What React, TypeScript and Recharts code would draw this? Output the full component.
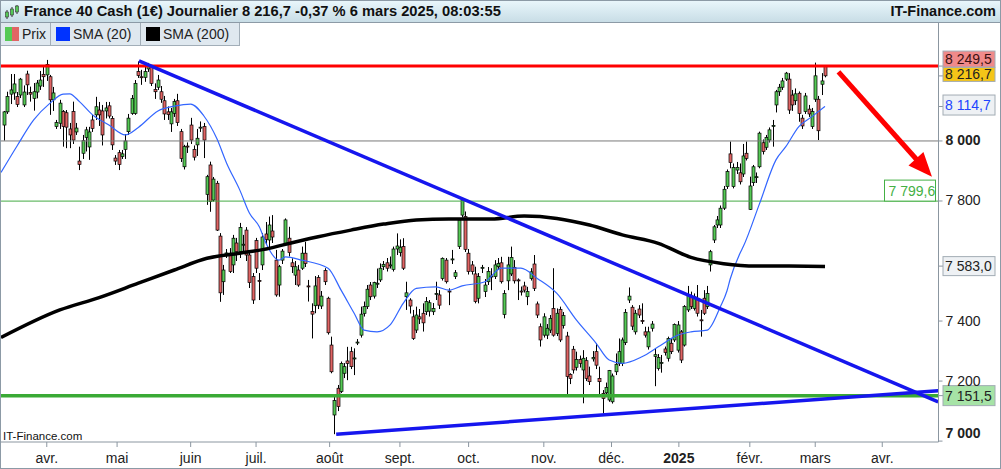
import React from 'react';
import { ComposedChart, Bar, Line, XAxis, YAxis, ReferenceLine } from 'recharts';

// daily candles [open, high, low, close], index 0 = mid-March 2024
const candles: number[][] = [
	[8053, 8100, 8001, 8097], [8097, 8164, 8090, 8148], [8156, 8223, 8123, 8170], [8160, 8223, 8137, 8190],
	[8148, 8163, 8113, 8122], [8153, 8210, 8143, 8206], [8120, 8185, 8113, 8163], [8223, 8234, 8153, 8187],
	[8161, 8181, 8131, 8156], [8142, 8193, 8101, 8164], [8163, 8203, 8142, 8193], [8183, 8233, 8170, 8203],
	[8222, 8253, 8180, 8214], [8220, 8270, 8200, 8255], [8214, 8220, 8087, 8137], [8137, 8180, 8100, 8160],
	[8048, 8070, 8040, 8061], [8059, 8137, 8040, 8126], [8098, 8103, 7981, 8048], [8094, 8103, 7976, 8046],
	[8040, 8060, 7976, 8020], [8098, 8131, 7990, 8003], [8030, 8060, 8020, 8043], [7933, 7981, 7903, 7922],
	[7959, 8020, 7940, 8001], [8012, 8047, 7965, 8037], [7980, 8047, 7937, 8030], [8070, 8087, 8030, 8042],
	[8087, 8147, 8070, 8114], [8103, 8130, 8050, 8087], [8100, 8120, 7985, 8020], [8100, 8130, 8075, 8110],
	[8117, 8130, 8075, 8083], [8075, 8083, 7970, 7987], [7943, 7953, 7920, 7933], [7961, 7970, 7903, 7922],
	[7948, 7970, 7940, 7957], [7972, 8023, 7940, 8000], [8031, 8090, 8020, 8076], [8092, 8153, 8087, 8142],
	[8092, 8203, 8087, 8192], [8231, 8265, 8210, 8218], [8214, 8237, 8187, 8212], [8212, 8247, 8197, 8231],
	[8240, 8260, 8230, 8250], [8248, 8253, 8183, 8192], [8172, 8192, 8140, 8164], [8179, 8220, 8170, 8203],
	[8164, 8183, 8127, 8139], [8134, 8150, 8070, 8090], [8097, 8115, 8070, 8088], [8057, 8110, 8030, 8097],
	[8092, 8140, 8080, 8131], [8134, 8157, 8050, 8061], [8031, 8040, 7930, 7942], [7914, 7987, 7905, 7981],
	[7983, 7995, 7960, 7980], [8053, 8077, 7990, 8003], [7972, 7985, 7935, 7946], [7987, 8040, 7950, 8009],
	[8043, 8065, 8030, 8046], [8048, 8060, 7943, 8003], [7822, 7887, 7787, 7881], [7920, 7931, 7764, 7798],
	[7803, 7880, 7798, 7873], [7859, 7867, 7700, 7703], [7683, 7693, 7464, 7494], [7531, 7587, 7487, 7570],
	[7623, 7640, 7610, 7627], [7626, 7643, 7560, 7565], [7587, 7687, 7560, 7676], [7660, 7677, 7600, 7631],
	[7631, 7727, 7610, 7712], [7653, 7687, 7627, 7656], [7703, 7713, 7600, 7620], [7620, 7630, 7510, 7528],
	[7548, 7560, 7457, 7470], [7668, 7677, 7560, 7576], [7535, 7560, 7470, 7532], [7587, 7693, 7570, 7680],
	[7690, 7730, 7655, 7672], [7670, 7748, 7637, 7720], [7700, 7753, 7660, 7680], [7603, 7637, 7481, 7487],
	[7520, 7587, 7481, 7581], [7603, 7640, 7590, 7633], [7659, 7742, 7650, 7737], [7676, 7714, 7615, 7628],
	[7594, 7609, 7560, 7581], [7553, 7600, 7520, 7581], [7570, 7587, 7514, 7520], [7576, 7648, 7570, 7626],
	[7626, 7664, 7580, 7592], [7517, 7537, 7465, 7515], [7432, 7459, 7342, 7423], [7451, 7550, 7426, 7517],
	[7545, 7553, 7440, 7453], [7450, 7500, 7440, 7483], [7568, 7576, 7520, 7531], [7476, 7481, 7355, 7361],
	[7320, 7348, 7226, 7231], [7087, 7153, 7023, 7135], [7176, 7187, 7100, 7115], [7165, 7265, 7160, 7259],
	[7226, 7260, 7210, 7248], [7267, 7314, 7203, 7259], [7298, 7314, 7240, 7248], [7275, 7309, 7220, 7277],
	[7327, 7340, 7320, 7330], [7353, 7448, 7345, 7423], [7425, 7465, 7415, 7448], [7448, 7520, 7440, 7506],
	[7520, 7530, 7470, 7481], [7483, 7531, 7475, 7528], [7524, 7575, 7510, 7526], [7537, 7592, 7530, 7576],
	[7581, 7600, 7570, 7589], [7594, 7610, 7565, 7576], [7585, 7615, 7575, 7587], [7572, 7648, 7565, 7640],
	[7640, 7692, 7620, 7650], [7628, 7672, 7615, 7646], [7648, 7676, 7570, 7576], [7481, 7531, 7437, 7494],
	[7470, 7476, 7425, 7450], [7414, 7437, 7337, 7342], [7370, 7448, 7360, 7420], [7414, 7440, 7390, 7407],
	[7426, 7459, 7365, 7394], [7431, 7480, 7420, 7465], [7433, 7470, 7415, 7461], [7431, 7460, 7420, 7442],
	[7490, 7531, 7470, 7492], [7487, 7503, 7440, 7453], [7542, 7612, 7535, 7609], [7603, 7610, 7525, 7531],
	[7500, 7509, 7453, 7498], [7605, 7637, 7590, 7607], [7548, 7570, 7540, 7561], [7648, 7742, 7640, 7737],
	[7753, 7810, 7745, 7803], [7748, 7765, 7630, 7639], [7626, 7640, 7555, 7565], [7587, 7600, 7555, 7565],
	[7557, 7581, 7459, 7465], [7476, 7560, 7459, 7548], [7577, 7587, 7560, 7579], [7498, 7540, 7480, 7520],
	[7531, 7580, 7520, 7565], [7548, 7576, 7503, 7550], [7548, 7603, 7540, 7587], [7581, 7610, 7570, 7592],
	[7594, 7614, 7525, 7531], [7422, 7503, 7409, 7492], [7534, 7614, 7503, 7587], [7557, 7648, 7550, 7612],
	[7579, 7603, 7525, 7534], [7537, 7542, 7470, 7535], [7500, 7515, 7485, 7498], [7517, 7531, 7495, 7503],
	[7481, 7514, 7453, 7498], [7542, 7576, 7535, 7564], [7590, 7620, 7500, 7509], [7457, 7465, 7410, 7420],
	[7381, 7392, 7315, 7337], [7353, 7426, 7345, 7414], [7353, 7390, 7340, 7376], [7370, 7420, 7360, 7409],
	[7442, 7576, 7348, 7353], [7359, 7442, 7350, 7426], [7439, 7448, 7330, 7337], [7385, 7430, 7375, 7418],
	[7350, 7364, 7153, 7215], [7222, 7226, 7190, 7209], [7306, 7317, 7225, 7237], [7246, 7298, 7235, 7272],
	[7272, 7285, 7245, 7259], [7237, 7303, 7126, 7276], [7268, 7280, 7200, 7209], [7217, 7248, 7187, 7198],
	[7274, 7300, 7265, 7279], [7298, 7326, 7240, 7253], [7209, 7248, 7150, 7198], [7159, 7170, 7092, 7142],
	[7161, 7195, 7150, 7179], [7137, 7237, 7131, 7235], [7131, 7225, 7125, 7217], [7231, 7292, 7220, 7256],
	[7259, 7342, 7250, 7298], [7259, 7345, 7250, 7337], [7328, 7440, 7320, 7429], [7470, 7512, 7460, 7483],
	[7446, 7453, 7370, 7383], [7364, 7437, 7355, 7426], [7440, 7453, 7410, 7420], [7402, 7459, 7390, 7400],
	[7364, 7381, 7345, 7353], [7314, 7381, 7305, 7364], [7376, 7400, 7365, 7390], [7282, 7309, 7183, 7288],
	[7242, 7290, 7235, 7279], [7261, 7287, 7228, 7262], [7307, 7315, 7285, 7295], [7276, 7348, 7265, 7342],
	[7326, 7340, 7290, 7298], [7337, 7392, 7330, 7389], [7303, 7400, 7295, 7387], [7364, 7370, 7260, 7270],
	[7320, 7453, 7315, 7448], [7437, 7517, 7430, 7487], [7481, 7498, 7440, 7448], [7442, 7492, 7435, 7481],
	[7476, 7520, 7415, 7426], [7404, 7437, 7348, 7403], [7476, 7503, 7420, 7426], [7448, 7517, 7440, 7492],
	[7587, 7637, 7565, 7631], [7670, 7720, 7660, 7714], [7720, 7750, 7710, 7737], [7720, 7785, 7710, 7776],
	[7776, 7850, 7770, 7839], [7848, 7905, 7840, 7898], [7957, 7998, 7909, 7928], [7848, 7925, 7842, 7912],
	[7903, 7930, 7890, 7912], [7894, 7925, 7855, 7864], [7890, 7990, 7880, 7950], [7959, 7998, 7935, 7942],
	[7772, 7881, 7770, 7850], [7861, 7920, 7850, 7914], [7880, 7895, 7860, 7881], [7914, 8031, 7909, 8026],
	[7994, 8005, 7955, 7965], [7979, 8020, 7970, 8012], [8003, 8045, 7995, 8037], [8050, 8070, 7981, 8052],
	[8120, 8170, 8095, 8164], [8164, 8190, 8150, 8179], [8179, 8210, 8170, 8200], [8206, 8230, 8200, 8226],
	[8206, 8226, 8090, 8103], [8153, 8170, 8100, 8120], [8134, 8175, 8120, 8157], [8159, 8165, 8064, 8092],
	[8076, 8087, 8040, 8050], [8098, 8160, 8090, 8150], [8106, 8120, 8080, 8090], [8048, 8110, 8040, 8098],
	[8139, 8261, 8130, 8217], [8139, 8150, 8003, 8034], [8189, 8226, 8153, 8200], [8248, 8253, 8212, 8217],
];

// moving averages: [candle index, value]
const sma20: number[][] = [
	[-1, 7895], [4, 7985], [9, 8070], [14, 8126], [18, 8156], [20, 8157], [23, 8131], [27, 8087],
	[32, 8053], [37, 8020], [41, 8045], [47, 8100], [52, 8116], [57, 8123], [61, 8084], [65, 8008],
	[68, 7926], [72, 7837], [75, 7759], [78, 7714], [80, 7660], [84, 7603], [86, 7614], [91, 7603],
	[99, 7576], [103, 7503], [107, 7426], [110, 7370], [114, 7364], [118, 7387], [122, 7459], [126, 7509],
	[132, 7514], [136, 7503], [140, 7517], [147, 7531], [152, 7576], [158, 7576], [163, 7542], [169, 7492],
	[175, 7403], [181, 7326], [185, 7270], [189, 7259], [195, 7281], [200, 7314], [206, 7353], [210, 7364],
	[215, 7370], [219, 7448], [221, 7500], [222, 7540], [225, 7626], [226, 7648], [231, 7792], [236, 7937],
	[239, 7981], [243, 8048], [247, 8081], [251, 8115],
];

const sma200: number[][] = [
	[-1, 7345], [17, 7437], [29, 7478], [41, 7526], [52, 7570], [62, 7609], [72, 7626], [81, 7642],
	[85, 7653], [96, 7681], [106, 7703], [116, 7723], [126, 7737], [136, 7740], [149, 7740], [159, 7750],
	[169, 7742], [179, 7720], [189, 7687], [200, 7659], [210, 7612], [220, 7591], [230, 7583], [240, 7583],
	[251, 7582],
];

const monthTicks = [13, 34.5, 57, 77, 99.5, 121, 142, 165, 185.7, 206.3, 228, 248, 268.5];
const monthLabels = ['avr.', 'mai', 'juin', 'juil.', 'août', 'sept.', 'oct.', 'nov.', 'déc.', '2025', 'févr.', 'mars', 'avr.'];
const priceTicks = [7000, 7200, 7400, 7800, 8000];

const resistance = 8249.5;
const lastPrice = 8216.7;
const sma20Last = 8114.7;
const target = 7799.6;
const sma200Last = 7583.0;
const support = 7151.5;
const greyLevel = 8000;

// hand drawn lines [index, price]
const upperTrend = [[41.2, 8267], [285.6, 7131]];
const lowerTrend = [[101.5, 7023], [285.6, 7168]];
const arrow = [[255.1, 8230], [283.7, 7881]];

const FONT = '"Liberation Sans", Arial, sans-serif';
const AXIS = '#8b96a0';

const fmt = (v: number, dec = 0) => {
	const [int, frac] = v.toFixed(dec).split('.');
	const withSpaces = int.replace(/\B(?=(\d{3})+(?!\d))/g, ' ');
	return frac ? withSpaces + ',' + frac : withSpaces;
};

const s20 = new Map(sma20.map(([i, v]) => [i, v]));
const s200 = new Map(sma200.map(([i, v]) => [i, v]));
const rows: any[] = [];
for (let i = -1; i < candles.length; i++) {
	const c = candles[i];
	rows.push({
		i,
		range: c ? [c[2], c[1]] : undefined,
		o: c ? c[0] : undefined,
		h: c ? c[1] : undefined,
		l: c ? c[2] : undefined,
		c: c ? c[3] : undefined,
		sma20: s20.get(i),
		sma200: s200.get(i),
	});
}

const Candle = (props: any) => {
	const { x, y, width, height, payload } = props;
	if (!payload || payload.o == null) return null;
	const top = Math.min(y, y + height);
	const bot = Math.max(y, y + height);
	const { o, h, l, c } = payload;
	const span = h - l || 1;
	const py = (v: number) => top + ((h - v) / span) * (bot - top);
	const cx = Math.round(x + width / 2) + 0.5;
	const bt = py(Math.max(o, c));
	const bb = py(Math.min(o, c));
	return (
		<g>
			<line x1={cx} x2={cx} y1={top} y2={bot} stroke='#000' strokeWidth={1} />
			<rect
				x={cx - 1.5}
				y={bt}
				width={3}
				height={Math.max(bb - bt, 1)}
				fill={c >= o ? '#55c955' : '#e06464'}
				stroke='#000'
				strokeWidth={0.7}
			/>
		</g>
	);
};

const MonthTick = (props: any) => {
	const { x, y, payload } = props;
	const label = monthLabels[monthTicks.indexOf(payload.value)];
	return (
		<text x={x} y={y} dy='0.71em' textAnchor='middle' fontSize={14} fontFamily={FONT}
			fill='#222' fontWeight={label === '2025' ? 'bold' : 'normal'}>
			{label}
		</text>
	);
};

const PriceTick = (props: any) => {
	const { x, y, payload } = props;
	const v = payload.value;
	const bold = v === 7000 || v === 8000;
	return (
		<text x={x} y={v === 7000 ? y - 8 : y} dy={4.5} fontSize={14} fontFamily={FONT}
			fill='#222' fontWeight={bold ? 'bold' : 'normal'}>
			{fmt(v)}
		</text>
	);
};

// price box drawn on the right axis
const axisBox = (text: string, bg: string, color: string, h: number, shift = 0) => (p: any) => {
	const vb = p.viewBox;
	const x = vb.x + vb.width;
	const cy = vb.y + shift;
	return (
		<g>
			<line x1={x} x2={x + 5} y1={vb.y} y2={vb.y} stroke={AXIS} />
			<rect x={x + 4.5} y={cy - h / 2} width={52} height={h} fill={bg} stroke='#a2acb4' />
			<text x={x + 6.5} y={cy} dy={5} fontSize={14} fontFamily={FONT} fill={color}>{text}</text>
		</g>
	);
};

const targetBox = (p: any) => {
	const vb = p.viewBox;
	const right = vb.x + vb.width - 3;
	return (
		<g>
			<rect x={right - 51} y={vb.y - 21} width={51} height={21} fill='#fff' stroke='#44b044' />
			<text x={right - 47} y={vb.y - 10.5} dy={5} fontSize={14} fontFamily={FONT} fill='#44b044'>
				{fmt(target, 1)}
			</text>
		</g>
	);
};

const ArrowShape = (props: any) => {
	const { x1, y1, x2, y2 } = props;
	const ang = Math.atan2(y2 - y1, x2 - x1);
	const len = 24;
	const half = 10;
	const bx = x2 - len * Math.cos(ang);
	const by = y2 - len * Math.sin(ang);
	const px = -Math.sin(ang) * half;
	const py = Math.cos(ang) * half;
	return (
		<g>
			<line x1={x1} y1={y1} x2={bx + 2 * Math.cos(ang)} y2={by + 2 * Math.sin(ang)} stroke='#ff0000' strokeWidth={5} />
			<polygon points={`${x2},${y2} ${bx + px},${by + py} ${bx - px},${by - py}`} fill='#ff0000' />
		</g>
	);
};

const HeaderIcon = () => (
	<svg width={16} height={16} style={{ position: 'absolute', left: 4, top: 4 }}>
		<line x1={3} x2={3} y1={6} y2={15} stroke='#333' />
		<rect x={1.5} y={8} width={3} height={5} fill='#55c955' stroke='#333' strokeWidth={0.6} />
		<line x1={8} x2={8} y1={3} y2={13} stroke='#333' />
		<rect x={6.5} y={5} width={3} height={6} fill='#55c955' stroke='#333' strokeWidth={0.6} />
		<line x1={13} x2={13} y1={1} y2={10} stroke='#333' />
		<rect x={11.5} y={2} width={3} height={6} fill='#55c955' stroke='#333' strokeWidth={0.6} />
	</svg>
);

const legendCell: React.CSSProperties = {
	position: 'absolute',
	top: 23,
	height: 23,
	boxSizing: 'border-box',
	background: '#dfe8ef',
	borderRight: '1px solid #a2aeb8',
	borderBottom: '1px solid #a2aeb8',
	fontSize: 14,
	lineHeight: '22px',
	color: '#222',
};

export default function App() {
	return (
		<div style={{ position: 'relative', width: 1001, height: 469, overflow: 'hidden', background: '#fff', fontFamily: FONT }}>
			<style>{'body{margin:0}'}</style>
			<div style={{ position: 'absolute', left: 0, top: 0 }}>
				<ComposedChart width={1001} height={469} data={rows} margin={{ top: 23, right: 1.5, bottom: 0, left: 1 }}>
					<XAxis
						dataKey='i'
						type='number'
						domain={[-1, 285.7]}
						allowDataOverflow
						ticks={monthTicks}
						interval={0}
						height={27}
						tickSize={5}
						tickMargin={6}
						tick={<MonthTick />}
						stroke={AXIS}
					/>
					<YAxis
						orientation='right'
						type='number'
						domain={[6997, 8393]}
						allowDataOverflow
						ticks={priceTicks}
						interval={0}
						width={61}
						tickSize={4}
						tickMargin={3}
						tick={<PriceTick />}
						stroke={AXIS}
					/>
					<ReferenceLine y={greyLevel} stroke='#7a7a7a' strokeWidth={1} />
					<ReferenceLine y={target} stroke='#44aa44' strokeWidth={1} label={targetBox} />
					<Bar dataKey='range' shape={<Candle />} barSize={3} isAnimationActive={false} />
					<Line dataKey='sma20' type='monotone' stroke='#3366ff' strokeWidth={1.2} dot={false} connectNulls isAnimationActive={false} />
					<Line dataKey='sma200' type='monotone' stroke='#000' strokeWidth={3.5} dot={false} connectNulls isAnimationActive={false} />
					<ReferenceLine y={resistance} stroke='#ff0000' strokeWidth={3}
						label={axisBox(fmt(resistance, 1), '#f08a8a', '#3a1010', 16, -7)} />
					<ReferenceLine y={lastPrice} stroke='none' label={axisBox(fmt(lastPrice, 1), '#f5c518', '#222', 14, -1.5)} />
					<ReferenceLine y={sma20Last} stroke='none' label={axisBox(fmt(sma20Last, 1), '#eef1f4', '#2244ff', 20, -1.5)} />
					<ReferenceLine y={sma200Last} stroke='none' label={axisBox(fmt(sma200Last, 1), '#eef1f4', '#222', 19)} />
					<ReferenceLine y={support} stroke='#3aaa35' strokeWidth={3.5}
						label={axisBox(fmt(support, 1), '#a6e3a6', '#222', 20)} />
					<ReferenceLine segment={[{ x: upperTrend[0][0], y: upperTrend[0][1] }, { x: upperTrend[1][0], y: upperTrend[1][1] }]}
						stroke='#1616ee' strokeWidth={3.5} ifOverflow='hidden' />
					<ReferenceLine segment={[{ x: lowerTrend[0][0], y: lowerTrend[0][1] }, { x: lowerTrend[1][0], y: lowerTrend[1][1] }]}
						stroke='#1616ee' strokeWidth={3.5} ifOverflow='hidden' />
					<ReferenceLine segment={[{ x: arrow[0][0], y: arrow[0][1] }, { x: arrow[1][0], y: arrow[1][1] }]}
						shape={ArrowShape} ifOverflow='visible' />
				</ComposedChart>
			</div>

			<div style={{
				position: 'absolute', left: 0, top: 0, width: 1001, height: 23, boxSizing: 'border-box',
				background: 'linear-gradient(#eaf7fc, #c8dde6)', borderBottom: '1px solid #8c9aa6',
			}}>
				<HeaderIcon />
				<div style={{ position: 'absolute', left: 24, top: 3, fontSize: 14.7, fontWeight: 'bold', color: '#111', whiteSpace: 'nowrap' }}>
					France 40 Cash (1€) Journalier 8 216,7 -0,37 % 6 mars 2025, 08:03:55
				</div>
				<div style={{ position: 'absolute', right: 5, top: 3, fontSize: 14.5, fontWeight: 'bold', color: '#111' }}>
					IT-Finance.com
				</div>
			</div>

			<div style={{ ...legendCell, left: 0, width: 51 }}>
				<span style={{ position: 'absolute', left: 5, top: 4, width: 7, height: 14, background: '#55c955' }} />
				<span style={{ position: 'absolute', left: 12, top: 4, width: 7, height: 14, background: '#e06464' }} />
				<span style={{ position: 'absolute', left: 22 }}>Prix</span>
			</div>
			<div style={{ ...legendCell, left: 51, width: 90 }}>
				<span style={{ position: 'absolute', left: 5, top: 4, width: 14, height: 14, background: '#0033ff' }} />
				<span style={{ position: 'absolute', left: 22 }}>SMA (20)</span>
			</div>
			<div style={{ ...legendCell, left: 141, width: 99 }}>
				<span style={{ position: 'absolute', left: 5, top: 4, width: 14, height: 14, background: '#000' }} />
				<span style={{ position: 'absolute', left: 22 }}>SMA (200)</span>
			</div>

			<div style={{ position: 'absolute', left: 3, top: 430, fontSize: 11.5, color: '#111' }}>IT-Finance.com</div>

			<div style={{ position: 'absolute', inset: 0, border: '1px solid #8c9aa6', pointerEvents: 'none' }} />
		</div>
	);
}
